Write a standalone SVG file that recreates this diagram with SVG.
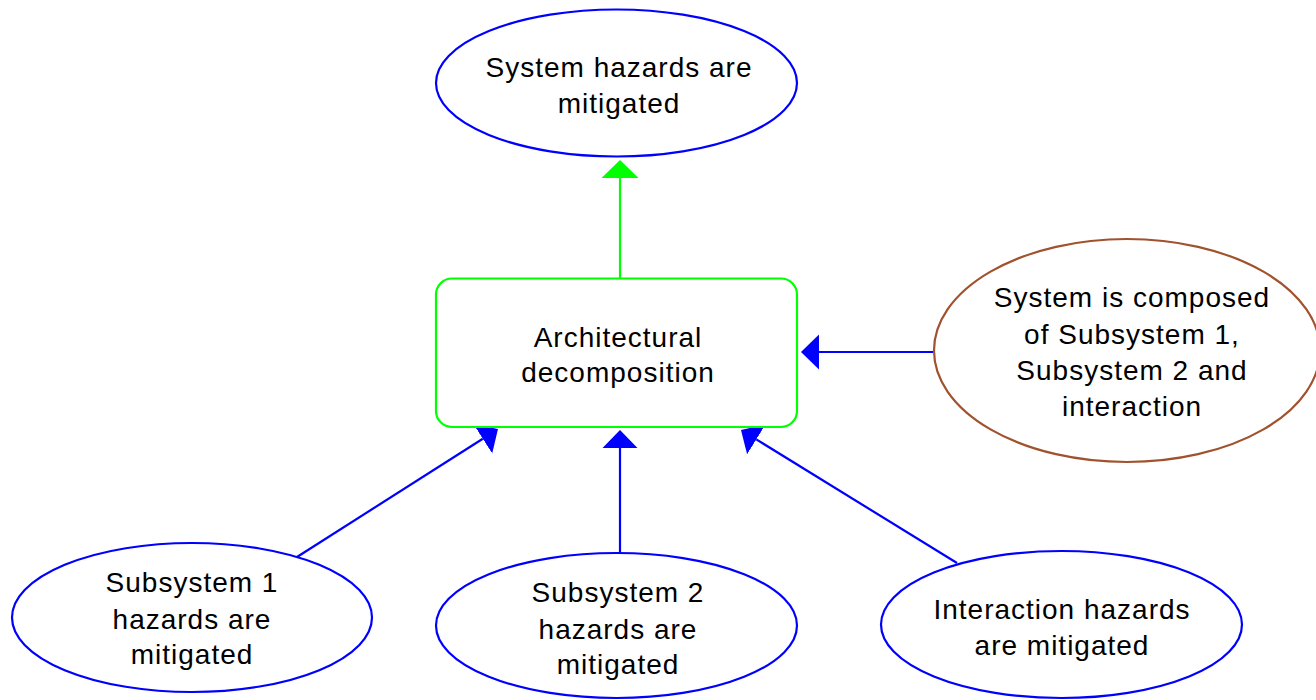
<svg xmlns="http://www.w3.org/2000/svg" width="1316" height="700" viewBox="0 0 1316 700">
  <style>
    .goal { fill: #FFFFFF; stroke: #0000FF; stroke-width: 2.2; }
    .context { fill: #FFFFFF; stroke: #A0522D; stroke-width: 2.2; }
    .strategy { fill: #FFFFFF; stroke: #00FF00; stroke-width: 2.2; }
    .label { font-family: "Liberation Sans", Arial, sans-serif; font-size: 28px; letter-spacing: 1px; fill: #000000; text-anchor: middle; }
    .link-blue { stroke: #0000FF; stroke-width: 2.2; fill: none; }
    .link-green { stroke: #00FF00; stroke-width: 2.2; fill: none; }
    .head-blue { fill: #0000FF; }
    .head-green { fill: #00FF00; }
  </style>
  <defs>
    <marker id="arrow-blue" markerUnits="userSpaceOnUse" markerWidth="20" markerHeight="40" viewBox="0 -19 20 38" refX="0" refY="0" orient="auto">
      <path class="head-blue" d="M0,-17.5 L18,0 L0,17.5 Z"/>
    </marker>
    <marker id="arrow-green" markerUnits="userSpaceOnUse" markerWidth="20" markerHeight="40" viewBox="0 -19 20 38" refX="0" refY="0" orient="auto">
      <path class="head-green" d="M0,-18.5 L18,0 L0,18.5 Z"/>
    </marker>
  </defs>

  <rect width="1316" height="700" fill="#FFFFFF"/>

  <!-- connectors (drawn beneath the nodes) -->
  <g id="connectors">
    <line class="link-green" x1="620" y1="278" x2="620" y2="178" marker-end="url(#arrow-green)"/>
    <line class="link-blue" x1="933" y1="352" x2="819" y2="352" marker-end="url(#arrow-blue)"/>
    <line class="link-blue" x1="297" y1="557" x2="482.8" y2="438.7" marker-end="url(#arrow-blue)"/>
    <line class="link-blue" x1="620" y1="553" x2="620" y2="448" marker-end="url(#arrow-blue)"/>
    <line class="link-blue" x1="957" y1="563" x2="756.3" y2="439.4" marker-end="url(#arrow-blue)"/>
  </g>

  <g id="goal-system">
    <ellipse class="goal" cx="616.5" cy="83" rx="180.5" ry="73.5"/>
    <text class="label" x="619" y="77">System hazards are</text>
    <text class="label" x="619" y="113">mitigated</text>
  </g>

  <g id="strategy-decomposition">
    <rect class="strategy" x="436" y="278.5" width="361" height="148.5" rx="16" ry="16"/>
    <text class="label" x="618" y="347">Architectural</text>
    <text class="label" x="618" y="382">decomposition</text>
  </g>

  <g id="context-composition">
    <ellipse class="context" cx="1127" cy="350.5" rx="193" ry="111.5"/>
    <text class="label" x="1132" y="307">System is composed</text>
    <text class="label" x="1132" y="344">of Subsystem 1,</text>
    <text class="label" x="1132" y="380">Subsystem 2 and</text>
    <text class="label" x="1132" y="416">interaction</text>
  </g>

  <g id="goal-subsystem1">
    <ellipse class="goal" cx="192" cy="617.5" rx="180" ry="74.5"/>
    <text class="label" x="192" y="592">Subsystem 1</text>
    <text class="label" x="192" y="629">hazards are</text>
    <text class="label" x="192" y="664">mitigated</text>
  </g>

  <g id="goal-subsystem2">
    <ellipse class="goal" cx="616.5" cy="625.5" rx="180.5" ry="72.5"/>
    <text class="label" x="618" y="602">Subsystem 2</text>
    <text class="label" x="618" y="639">hazards are</text>
    <text class="label" x="618" y="674">mitigated</text>
  </g>

  <g id="goal-interaction">
    <ellipse class="goal" cx="1061.5" cy="624.5" rx="180.5" ry="73.5"/>
    <text class="label" x="1062" y="619">Interaction hazards</text>
    <text class="label" x="1062" y="655">are mitigated</text>
  </g>
</svg>
